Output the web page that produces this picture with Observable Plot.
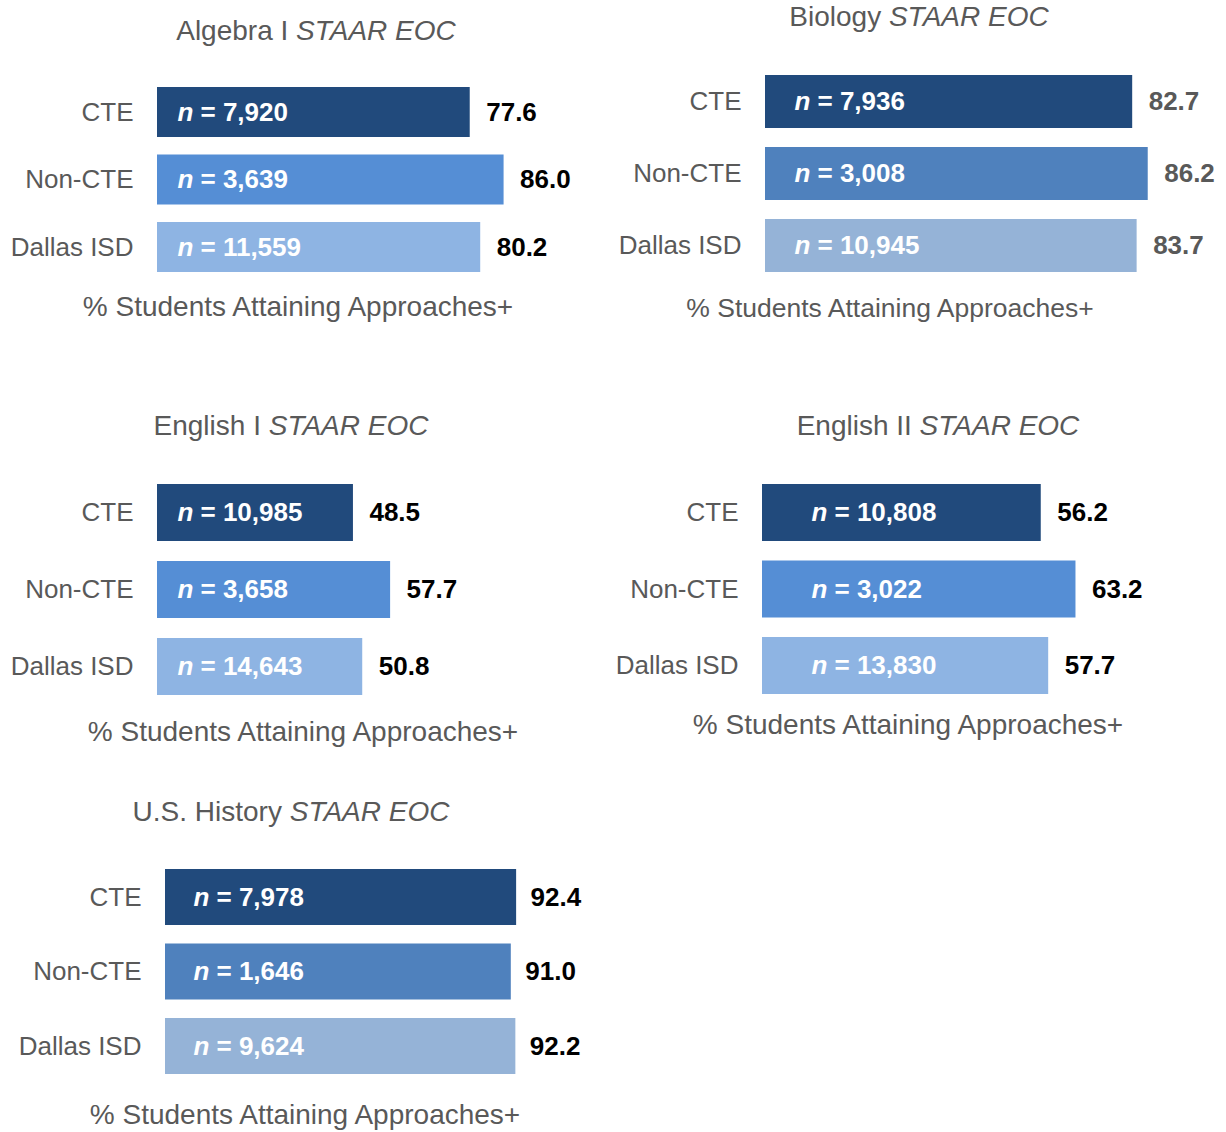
<!DOCTYPE html>
<html>
<head>
<meta charset="utf-8">
<script src="https://cdn.jsdelivr.net/npm/d3@7"></script>
<script src="https://cdn.jsdelivr.net/npm/@observablehq/plot@0.6"></script>
<style>
  html, body { margin: 0; padding: 0; background: #ffffff; }
  #page { position: relative; width: 1226px; height: 1132px; overflow: hidden; font-family: "Liberation Sans", Arial, sans-serif; }
  .panel { position: absolute; }
  .panel svg { overflow: visible; }
  .lbl { position: absolute; transform: translateX(-50%); white-space: nowrap; line-height: 28px; color: #595959; }
</style>
</head>
<body>
<div id="page"></div>
<script>
// ---------- data ----------
const groups = ["CTE", "Non-CTE", "Dallas ISD"];
const subjects = ["Algebra I", "Biology", "English I", "English II", "U.S. History"];
const titleSuffix = "STAAR EOC";
const axisLabel = "% Students Attaining Approaches+";

const algebraPct = [77.6, 86.0, 80.2];
const algebraN = [7920, 3639, 11559];
const biologyPct = [82.7, 86.2, 83.7];
const biologyN = [7936, 3008, 10945];
const english1Pct = [48.5, 57.7, 50.8];
const english1N = [10985, 3658, 14643];
const english2Pct = [56.2, 63.2, 57.7];
const english2N = [10808, 3022, 13830];
const historyPct = [92.4, 91.0, 92.2];
const historyN = [7978, 1646, 9624];

// ---------- layout / style ----------
const FONT = '"Liberation Sans", Arial, sans-serif';
const paletteA = ["#214A7C", "#558ED5", "#8EB4E3"];
const paletteB = ["#214A7C", "#4F81BD", "#95B3D7"];

const layouts = [
  {left: 0, top: 60, width: 613, height: 240, x0: 157, ppu: 4.03, firstTop: 87, pitch: 67.5, barH: 50,
   nInset: 20, gap: 16, colors: paletteA, valueColor: "#000000",
   title: [316, 41], axis: [298, 317], axisSize: 28},
  {left: 613, top: 50, width: 613, height: 240, x0: 765, ppu: 4.44, firstTop: 75, pitch: 72, barH: 53,
   nInset: 29, gap: 16, colors: paletteB, valueColor: "#595959",
   title: [919, 27], axis: [890, 318], axisSize: 26.5},
  {left: 0, top: 460, width: 613, height: 250, x0: 157, ppu: 4.04, firstTop: 484, pitch: 77, barH: 57,
   nInset: 20, gap: 16, colors: paletteA, valueColor: "#000000",
   title: [291, 436], axis: [303, 742], axisSize: 28},
  {left: 613, top: 460, width: 613, height: 250, x0: 762, ppu: 4.96, firstTop: 484, pitch: 76.5, barH: 57,
   nInset: 49, gap: 16, colors: paletteA, valueColor: "#000000",
   title: [938, 436], axis: [908, 735], axisSize: 28},
  {left: 0, top: 850, width: 613, height: 240, x0: 165, ppu: 3.80, firstTop: 869, pitch: 74.5, barH: 56,
   nInset: 28, gap: 14, colors: paletteB, valueColor: "#000000",
   title: [291, 822], axis: [305, 1125], axisSize: 28}
];

const datasets = [
  {pct: algebraPct, n: algebraN},
  {pct: biologyPct, n: biologyN},
  {pct: english1Pct, n: english1N},
  {pct: english2Pct, n: english2N},
  {pct: historyPct, n: historyN}
];

const fmt1 = d3.format(".1f");
const fmtN = d3.format(",");
const page = document.getElementById("page");

function addLabel(html, cx, baseline, size) {
  const d = document.createElement("div");
  d.className = "lbl";
  d.style.left = cx + "px";
  d.style.top = (baseline - 24) + "px";
  d.style.fontSize = size + "px";
  d.innerHTML = html;
  page.appendChild(d);
}

datasets.forEach((data, k) => {
  const L = layouts[k];
  const rows = groups.map((g, i) => ({group: g, pct: data.pct[i], n: data.n[i]}));
  const x0 = L.x0 - L.left;
  const yTop = L.firstTop - L.top;
  const pi = 1 - L.barH / L.pitch;
  const chart = Plot.plot({
    width: L.width,
    height: L.height,
    marginLeft: x0,
    marginRight: 0,
    marginTop: 0,
    marginBottom: 0,
    x: {domain: [0, 100], range: [x0, x0 + 100 * L.ppu], axis: null},
    y: {domain: groups, range: [yTop, yTop + 2 * L.pitch + L.barH], paddingInner: pi, paddingOuter: 0, round: false},
    color: {domain: groups, range: L.colors},
    style: {fontFamily: FONT, background: "transparent", color: "#595959", overflow: "visible"},
    marks: [
      Plot.barX(rows, {x: "pct", y: "group", fill: "group"}),
      Plot.axisY({tickSize: 0, tickPadding: 24, fontSize: 26, label: null}),
      Plot.text(rows, {x: 0, y: "group", text: () => "n", dx: L.nInset, textAnchor: "start",
        fill: "white", fontSize: 26, fontWeight: "bold", fontStyle: "italic"}),
      Plot.text(rows, {x: 0, y: "group", text: d => "= " + fmtN(d.n), dx: L.nInset + 23, textAnchor: "start",
        fill: "white", fontSize: 26, fontWeight: "bold"}),
      Plot.text(rows, {x: "pct", y: "group", text: d => fmt1(d.pct), dx: L.gap, textAnchor: "start",
        fill: L.valueColor, fontSize: 26, fontWeight: "bold"})
    ]
  });
  const wrap = document.createElement("div");
  wrap.className = "panel";
  wrap.style.left = L.left + "px";
  wrap.style.top = L.top + "px";
  wrap.appendChild(chart);
  page.appendChild(wrap);

  addLabel(subjects[k] + ' <i>' + titleSuffix + '</i>', L.title[0], L.title[1], 28);
  addLabel(axisLabel, L.axis[0], L.axis[1], L.axisSize);
});
</script>
</body>
</html>
